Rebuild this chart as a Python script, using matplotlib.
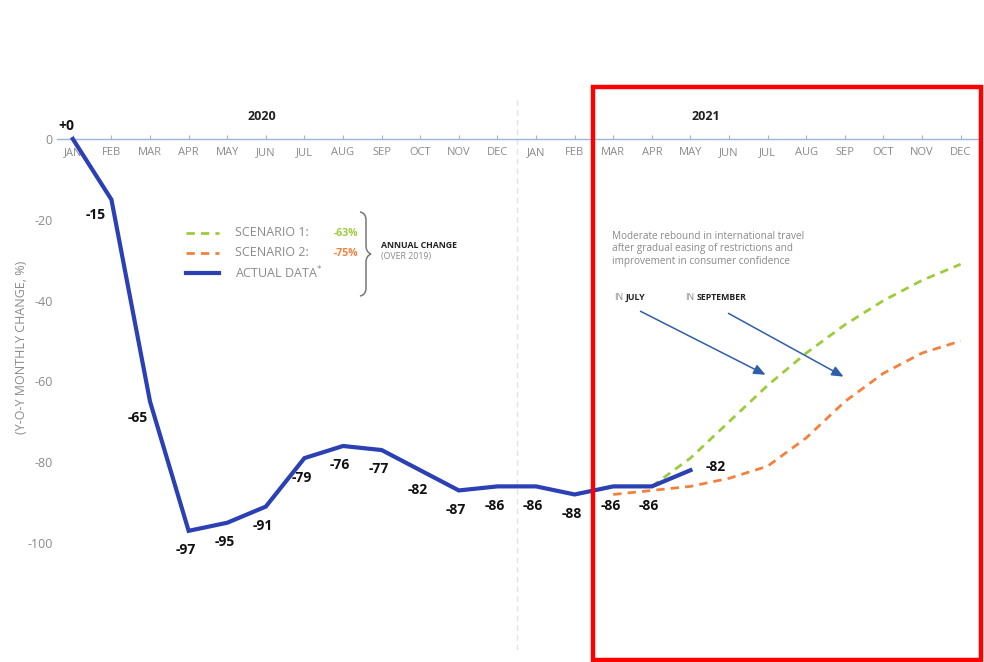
import matplotlib
matplotlib.use("Agg")
import matplotlib.pyplot as plt
from matplotlib.patches import Rectangle, PathPatch
from matplotlib.path import Path

plt.rcParams['font.family'] = ['Open Sans', 'DejaVu Sans']

# ---- data ----
months = ["JAN", "FEB", "MAR", "APR", "MAY", "JUN", "JUL", "AUG", "SEP", "OCT", "NOV", "DEC"]
month_labels = months + months
actual = [0, -15, -65, -97, -95, -91, -79, -76, -77, -82, -87, -86, -86, -88, -86, -86, -82]
actual_labels = ["+0", "-15", "-65", "-97", "-95", "-91", "-79", "-76", "-77", "-82", "-87",
                 "-86", "-86", "-88", "-86", "-86", "-82"]
scen1_start = 15
scenario1 = [-86, -79, -70, -61, -53, -46, -40, -35, -31]
scen2_start = 14
scenario2 = [-88, -87, -86, -84, -81, -74, -65, -58, -53, -50]
yticks = [0, -20, -40, -60, -80, -100]

W, H = 984, 662
fig = plt.figure(figsize=(W / 100, H / 100), dpi=100)
fig.patch.set_facecolor("white")


def fx(x):
    return x / W


def fy(y):
    return 1 - y / H


ax = fig.add_axes([fx(57), fy(650), fx(978) - fx(57), fy(100) - fy(650)])
ax.set_xlim(-0.41, 23.45)
ax.set_ylim(-126.5, 9.65)

BLUE = "#2a40b4"
GREEN = "#9ccc3c"
ORANGE = "#f5803e"
GRAY = "#8a8a8a"
AXBLUE = "#9ab5de"

for s in ["top", "right", "left"]:
    ax.spines[s].set_visible(False)
ax.spines["bottom"].set_position(("data", 0))
ax.spines["bottom"].set_color(AXBLUE)
ax.spines["bottom"].set_linewidth(1.0)

x_all = list(range(len(month_labels)))
ax.set_xticks(x_all)
ax.set_xticklabels(month_labels, fontsize=8, color=GRAY)
ax.tick_params(axis="x", direction="in", length=3, color=AXBLUE, pad=6)
ax.set_yticks(yticks)
ax.set_yticklabels([str(v) for v in yticks], fontsize=9, color=GRAY)
ax.tick_params(axis="y", length=0, pad=3)

# separator between years
ax.axvline(11.5, color="#dbe3f0", lw=1.0, ls=(0, (4, 3)), zorder=0)

# scenarios
ax.plot(range(scen2_start, scen2_start + len(scenario2)), scenario2, color=ORANGE,
        lw=2.0, ls=(0, (3, 2.2)), zorder=2)
ax.plot(range(scen1_start, scen1_start + len(scenario1)), scenario1, color=GREEN,
        lw=2.0, ls=(0, (3, 2.2)), zorder=2)
# actual
ax.plot(range(len(actual)), actual, color=BLUE, lw=3.0, zorder=3, solid_joinstyle="miter")

# data labels
for i, (v, lab) in enumerate(zip(actual, actual_labels)):
    if i == 0:
        off = (-5, 9)
    elif i == 1:
        off = (-11, -11)
    elif i == 2:
        off = (-9, -12)
    elif i == len(actual) - 1:
        off = (18, 2)
    else:
        off = (-2, -14)
    ax.annotate(lab, (i, v), xytext=off, textcoords="offset points", ha="center",
                va="center", fontsize=10, fontweight="bold", color="#111111")

# year labels
fig.text(fx(262), fy(116), "2020", fontsize=9, fontweight="bold", ha="center",
         va="center", color="#222222")
fig.text(fx(706), fy(116), "2021", fontsize=9, fontweight="bold", ha="center",
         va="center", color="#222222")

# y label
fig.text(fx(22), fy(347), "(Y-O-Y MONTHLY CHANGE, %)", rotation=90, fontsize=9,
         color=GRAY, ha="center", va="center")

# legend (manual)
leg = [(233, GREEN, (0, (3, 2.2)), 2.0, "SCENARIO 1:", "-63%"),
       (253, ORANGE, (0, (3, 2.2)), 2.0, "SCENARIO 2:", "-75%"),
       (273, BLUE, "-", 3.0, "ACTUAL DATA$^{*}$", None)]
for y, c, ls, lw, txt, pct in leg:
    fig.add_artist(plt.Line2D([fx(186), fx(219)], [fy(y), fy(y)], color=c, ls=ls, lw=lw,
                              transform=fig.transFigure))
    fig.text(fx(235), fy(y), txt, fontsize=9, color=GRAY, ha="left", va="center")
    if pct:
        fig.text(fx(334), fy(y), pct, fontsize=7.5, color=c, ha="left", va="center",
                 fontweight="bold")

# brace
bx, top, bot, mid = 366, 212, 296, 254
verts = [(fx(bx - 6), fy(top)), (fx(bx), fy(top + 1)), (fx(bx), fy(top + 8)),
         (fx(bx), fy(mid - 8)), (fx(bx), fy(mid - 2)), (fx(bx + 5), fy(mid)),
         (fx(bx), fy(mid + 2)), (fx(bx), fy(mid + 8)),
         (fx(bx), fy(bot - 8)), (fx(bx), fy(bot - 1)), (fx(bx - 6), fy(bot))]
codes = [Path.MOVETO, Path.CURVE3, Path.CURVE3, Path.LINETO, Path.CURVE3, Path.CURVE3,
         Path.CURVE3, Path.CURVE3, Path.LINETO, Path.CURVE3, Path.CURVE3]
fig.add_artist(PathPatch(Path(verts, codes), fill=False, ec="#777777", lw=1.1,
                         transform=fig.transFigure))
fig.text(fx(381), fy(245), "ANNUAL CHANGE", fontsize=6.3, fontweight="bold",
         color="#222222", ha="left", va="center")
fig.text(fx(381), fy(256), "(OVER 2019)", fontsize=6.3, color=GRAY, ha="left",
         va="center")

# scenario annotation
fig.text(fx(612), fy(249),
         "Moderate rebound in international travel\nafter gradual easing of restrictions and\nimprovement in consumer confidence",
         fontsize=7.2, color=GRAY, ha="left", va="center", linespacing=1.2)
fig.text(fx(614), fy(298), "IN", fontsize=6.3, color=GRAY, ha="left", va="center")
fig.text(fx(626), fy(298), "JULY", fontsize=6.3, color="#222222", fontweight="bold",
         ha="left", va="center")
fig.text(fx(685), fy(298), "IN", fontsize=6.3, color=GRAY, ha="left", va="center")
fig.text(fx(697), fy(298), "SEPTEMBER", fontsize=6.3, color="#222222", fontweight="bold",
         ha="left", va="center")
for (x0, y0, x1, y1) in [(638, 310, 768, 376), (726, 312, 846, 378)]:
    fig.add_artist(plt.Annotation("", xy=(fx(x1), fy(y1)), xytext=(fx(x0), fy(y0)),
                                  xycoords="figure fraction", textcoords="figure fraction",
                                  arrowprops=dict(arrowstyle="-|>,head_length=0.7,head_width=0.3",
                                                  color="#2f5ea8", lw=1.1)))

# red highlight frame
fig.add_artist(Rectangle((fx(593), fy(660)), fx(981) - fx(593), fy(87) - fy(660),
                         fill=False, ec="#ff0000", lw=3.2, transform=fig.transFigure))

fig.savefig("out.png", dpi=100, facecolor="white")
